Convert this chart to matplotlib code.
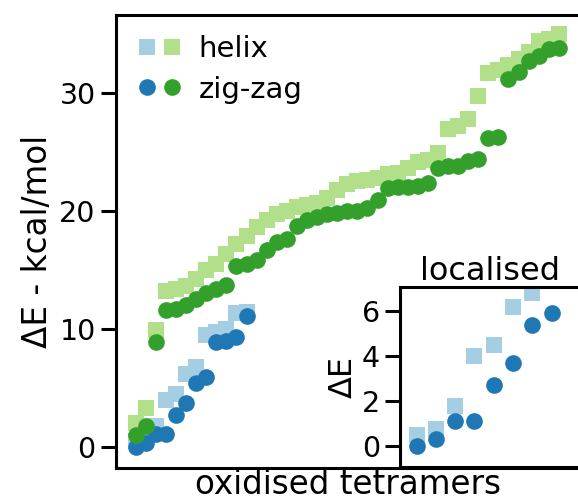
import matplotlib
matplotlib.use("Agg")
import matplotlib.pyplot as plt
from matplotlib.legend_handler import HandlerTuple
from matplotlib.lines import Line2D

# sorted energies, kcal/mol
green_helix = [2.0, 3.3, 9.9, 13.2, 13.4, 13.6, 14.2, 15.0, 15.5, 16.3, 17.2, 17.9,
               18.6, 19.2, 19.7, 20.0, 20.3, 20.5, 20.7, 21.1, 21.8, 22.3, 22.5, 22.6,
               22.8, 23.1, 23.2, 23.6, 24.1, 24.3, 24.9, 26.9, 27.2, 27.8, 29.7, 31.7,
               31.9, 32.4, 32.9, 33.5, 34.4, 34.6, 35.0]
green_zz = [1.0, 1.8, 8.9, 11.6, 11.7, 12.0, 12.5, 13.0, 13.4, 13.7, 15.3, 15.5,
            15.8, 16.7, 17.4, 17.6, 18.7, 19.2, 19.5, 19.7, 19.8, 19.95, 20.0, 20.2,
            20.9, 21.9, 22.0, 22.0, 22.1, 22.4, 23.6, 23.8, 23.8, 24.2, 24.4, 26.2,
            26.3, 31.2, 31.8, 32.7, 33.1, 33.7, 33.8]
blue_helix = [0.5, 0.75, 1.8, 4.0, 4.5, 6.2, 6.8, 9.5, 9.7, 10.0, 11.3, 11.4]
blue_zz = [0.0, 0.3, 1.1, 1.1, 2.7, 3.7, 5.4, 5.9, 8.9, 8.95, 9.3, 11.1]

c_lb, c_b, c_lg, c_g = '#a6cee3', '#1f78b4', '#b2df8a', '#33a02c'

plt.rcParams['font.family'] = 'DejaVu Sans'
plt.rcParams['axes.linewidth'] = 2.2
plt.rcParams['xtick.major.width'] = 2.2
plt.rcParams['ytick.major.width'] = 2.2
plt.rcParams['ytick.major.size'] = 10.8
plt.rcParams['ytick.labelsize'] = 20.5

W, H = 578, 501
fig = plt.figure(figsize=(W / 100, H / 100), dpi=100)

ax = fig.add_axes([115.6 / W, (H - 468) / H, (580 - 115.6) / W, 453 / H])
xg = list(range(len(green_zz)))
xb = list(range(len(blue_zz)))
ax.plot(xb, blue_helix, 's', ms=12, color=c_lb, mew=0)
ax.plot(xb, blue_zz, 'o', ms=12, color=c_b, mew=0)
ax.plot(xg, green_helix, 's', ms=12, color=c_lg, mew=0)
ax.plot(xg, green_zz, 'o', ms=12, color=c_g, mew=0)
ax.set_xlim(-2.0, 44.1)
ax.set_ylim(-1.8, 36.6)
ax.set_xticks([])
ax.set_yticks([0, 10, 20, 30])
ax.set_ylabel('ΔE - kcal/mol', fontsize=23.5)
ax.set_xlabel('oxidised tetramers', fontsize=23.5, labelpad=0)

h1 = (Line2D([], [], ls='none', marker='s', ms=12, color=c_lb, mew=0),
      Line2D([], [], ls='none', marker='s', ms=12, color=c_lg, mew=0))
h2 = (Line2D([], [], ls='none', marker='o', ms=12, color=c_b, mew=0),
      Line2D([], [], ls='none', marker='o', ms=12, color=c_g, mew=0))
ax.legend([h1, h2], ['helix', 'zig-zag'], handler_map={tuple: HandlerTuple(ndivide=None, pad=0.15)},
          loc='upper left', frameon=False, fontsize=21, handlelength=1.6,
          handletextpad=0.55, labelspacing=0.42, borderaxespad=0.3)

# inset: first points of the localised set
n_in = 8
axin = fig.add_axes([400 / W, (H - 467) / H, 180 / W, 180 / H])
axin.plot(range(n_in), blue_helix[:n_in], 's', ms=12, color=c_lb, mew=0)
axin.plot(range(n_in), blue_zz[:n_in], 'o', ms=12, color=c_b, mew=0)
axin.set_xlim(-0.86, 8.47)
axin.set_ylim(-0.93, 7.07)
axin.set_xticks([])
axin.set_yticks([0, 2, 4, 6])
axin.set_ylabel('ΔE', fontsize=23, labelpad=2)
axin.set_title('localised', fontsize=23, pad=4)

fig.savefig('out.png', dpi=100)
